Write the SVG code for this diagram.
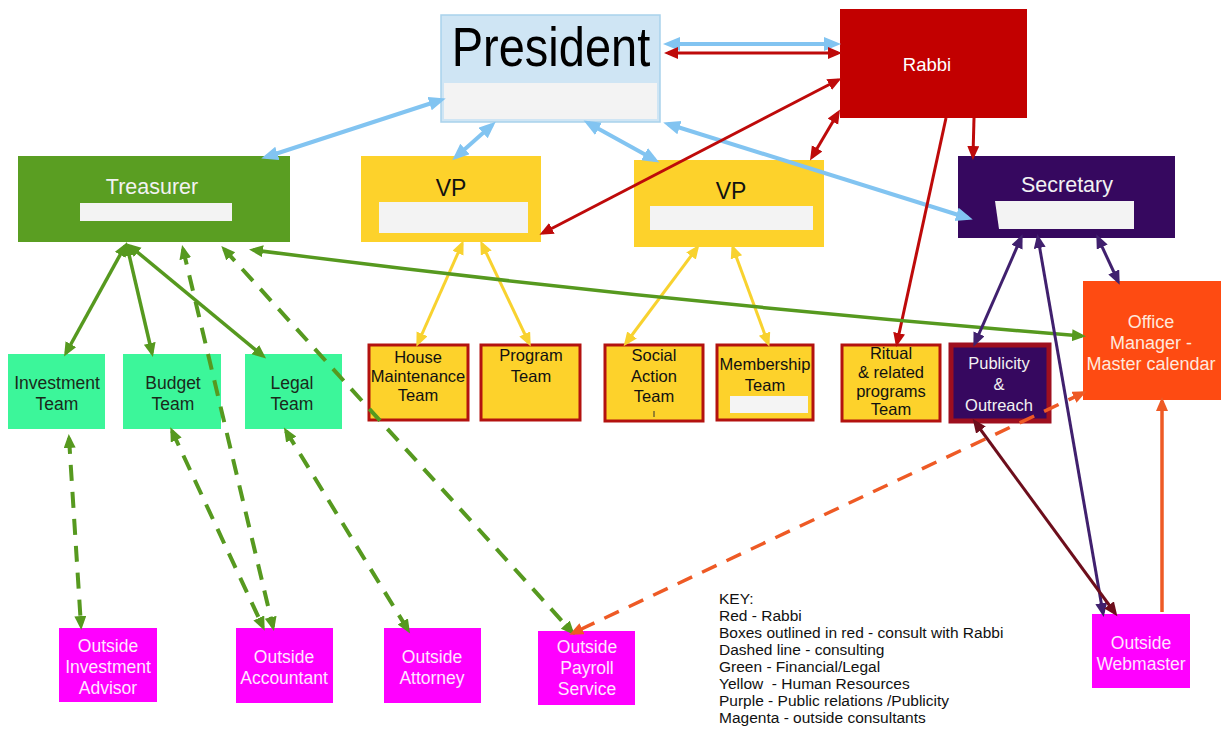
<svg xmlns="http://www.w3.org/2000/svg" width="1223" height="730" viewBox="0 0 1223 730">
<style>
  text { font-family: "Liberation Sans", Arial, sans-serif; text-anchor: middle; }
  .team { fill: #fdd22b; stroke: #b3120f; stroke-width: 3; }
  .teamtxt { font-size: 16.5px; fill: #111; }
  .mint { fill: #3cf69a; }
  .minttxt { font-size: 17.5px; fill: #1a2a1a; }
  .mag { fill: #ff00ff; }
  .magtxt { font-size: 17.5px; fill: #ffe6ff; }
  .strip { fill: #f3f3f3; }
  .key { font-size: 15.5px; fill: #111; text-anchor: start; white-space: pre; }
  .c { fill: none; }
  .blue { stroke: #82c4f1; stroke-width: 4; }
  .red { stroke: #be0a0a; stroke-width: 3; }
  .yel { stroke: #f8d22f; stroke-width: 3; }
  .grn { stroke: #56991f; stroke-width: 3.5; }
  .dash { stroke-dasharray: 16 11; stroke-width: 4; }
  .org { stroke: #ee5a25; stroke-width: 3.5; }
  .pur { stroke: #40206e; stroke-width: 3; }
  .mar { stroke: #6d0e1c; stroke-width: 3; }
</style>
<defs>
  <marker id="mb" markerUnits="userSpaceOnUse" markerWidth="18" markerHeight="16" refX="12" refY="7" orient="auto-start-reverse"><path d="M0,0 L17,7 L0,14 z" fill="#82c4f1"/></marker>
  <marker id="mr" markerUnits="userSpaceOnUse" markerWidth="16" markerHeight="14" refX="10" refY="6" orient="auto-start-reverse"><path d="M0,0 L14,6 L0,12 z" fill="#be0a0a"/></marker>
  <marker id="my" markerUnits="userSpaceOnUse" markerWidth="16" markerHeight="14" refX="10" refY="6" orient="auto-start-reverse"><path d="M0,0 L14,6 L0,12 z" fill="#f8d22f"/></marker>
  <marker id="mg" markerUnits="userSpaceOnUse" markerWidth="16" markerHeight="14" refX="10" refY="6" orient="auto-start-reverse"><path d="M0,0 L14,6 L0,12 z" fill="#56991f"/></marker>
  <marker id="mo" markerUnits="userSpaceOnUse" markerWidth="16" markerHeight="14" refX="10" refY="6" orient="auto-start-reverse"><path d="M0,0 L14,6 L0,12 z" fill="#ee5a25"/></marker>
  <marker id="mp" markerUnits="userSpaceOnUse" markerWidth="16" markerHeight="14" refX="10" refY="6" orient="auto-start-reverse"><path d="M0,0 L14,6 L0,12 z" fill="#40206e"/></marker>
  <marker id="mm" markerUnits="userSpaceOnUse" markerWidth="16" markerHeight="14" refX="10" refY="6" orient="auto-start-reverse"><path d="M0,0 L14,6 L0,12 z" fill="#6d0e1c"/></marker>
</defs>
<rect width="1223" height="730" fill="#ffffff"/>

<g id="president">
  <rect x="441" y="15" width="219" height="107" fill="#cfe5f4" stroke="#a9d2ec" stroke-width="1.5"/>
  <rect x="444" y="83" width="213" height="36" fill="#f3f3f3"/>
  <text x="551" y="58" font-size="47" fill="#000" transform="translate(0,-4) scale(1,1.2)">President</text>
</g>
<g id="rabbi">
  <rect x="840" y="9" width="187" height="109" fill="#c20000"/>
  <text x="927" y="71" font-size="18.5" fill="#fff">Rabbi</text>
</g>
<g id="treasurer">
  <rect x="18" y="156" width="272" height="86" fill="#5a9e22"/>
  <rect x="80" y="203" width="152" height="18" class="strip"/>
  <text x="152" y="194" font-size="21.5" fill="#f2f2f2">Treasurer</text>
</g>
<g id="vp1">
  <rect x="361" y="156" width="180" height="86" fill="#fdd22b"/>
  <rect x="379" y="202" width="149" height="31" class="strip"/>
  <text x="451" y="196" font-size="23" fill="#111">VP</text>
</g>
<g id="vp2">
  <rect x="634" y="160" width="190" height="87" fill="#fdd22b"/>
  <rect x="650" y="206" width="163" height="24" class="strip"/>
  <text x="731" y="199" font-size="23" fill="#111">VP</text>
</g>
<g id="secretary">
  <rect x="958" y="156" width="217" height="82" fill="#36085f"/>
  <polygon points="995,201 1134,201 1134,229 999,229" class="strip"/>
  <text x="1067" y="192" font-size="21.5" fill="#f2f2f2">Secretary</text>
</g>
<g id="office-manager">
  <rect x="1083" y="281" width="138" height="119" fill="#fe4b12"/>
  <text x="1151" y="328" font-size="18" fill="#ffe8dd">Office</text>
  <text x="1151" y="349" font-size="18" fill="#ffe8dd">Manager -</text>
  <text x="1151" y="370" font-size="18" fill="#ffe8dd">Master calendar</text>
</g>

<g id="investment-team">
  <rect x="8" y="354" width="97" height="75" class="mint"/>
  <text x="57" y="389" class="minttxt">Investment</text>
  <text x="57" y="410" class="minttxt">Team</text>
</g>
<g id="budget-team">
  <rect x="123" y="354" width="98" height="75" class="mint"/>
  <text x="173" y="389" class="minttxt">Budget</text>
  <text x="173" y="410" class="minttxt">Team</text>
</g>
<g id="legal-team">
  <rect x="245" y="354" width="97" height="75" class="mint"/>
  <text x="292" y="389" class="minttxt">Legal</text>
  <text x="292" y="410" class="minttxt">Team</text>
</g>

<g id="house-maintenance-team">
  <rect x="369" y="345" width="99" height="75" class="team"/>
  <text x="418" y="363" class="teamtxt">House</text>
  <text x="418" y="382" class="teamtxt">Maintenance</text>
  <text x="418" y="401" class="teamtxt">Team</text>
</g>
<g id="program-team">
  <rect x="481" y="345" width="99" height="75" class="team"/>
  <text x="531" y="361" class="teamtxt">Program</text>
  <text x="531" y="382" class="teamtxt">Team</text>
</g>
<g id="social-action-team">
  <rect x="605" y="345" width="98" height="76" class="team"/>
  <text x="654" y="361" class="teamtxt">Social</text>
  <text x="654" y="382" class="teamtxt">Action</text>
  <text x="654" y="402" class="teamtxt">Team</text>
  <line x1="654" y1="411" x2="654" y2="417" stroke="#333" stroke-width="1"/>
</g>
<g id="membership-team">
  <rect x="717" y="345" width="96" height="75" class="team"/>
  <rect x="730" y="396" width="78" height="17" fill="#f4f4f4"/>
  <text x="765" y="370" class="teamtxt" font-size="17">Membership</text>
  <text x="765" y="391" class="teamtxt">Team</text>
</g>
<g id="ritual-team">
  <rect x="842" y="345" width="98" height="76" class="team"/>
  <text x="891" y="359" class="teamtxt">Ritual</text>
  <text x="891" y="378" class="teamtxt">&amp; related</text>
  <text x="891" y="397" class="teamtxt">programs</text>
  <text x="891" y="415" class="teamtxt">Team</text>
</g>
<g id="publicity-outreach">
  <rect x="951" y="345" width="98" height="76" fill="#36085f" stroke="#9e0f1f" stroke-width="5"/>
  <text x="999" y="369" font-size="16.5" fill="#f2f2f2">Publicity</text>
  <text x="999" y="390" font-size="16.5" fill="#f2f2f2">&amp;</text>
  <text x="999" y="411" font-size="16.5" fill="#f2f2f2">Outreach</text>
</g>

<g id="outside-investment-advisor">
  <rect x="59" y="628" width="98" height="74" class="mag"/>
  <text x="108" y="652" class="magtxt">Outside</text>
  <text x="108" y="673" class="magtxt">Investment</text>
  <text x="108" y="694" class="magtxt">Advisor</text>
</g>
<g id="outside-accountant">
  <rect x="236" y="628" width="97" height="75" class="mag"/>
  <text x="284" y="663" class="magtxt">Outside</text>
  <text x="284" y="684" class="magtxt">Accountant</text>
</g>
<g id="outside-attorney">
  <rect x="384" y="628" width="97" height="75" class="mag"/>
  <text x="432" y="663" class="magtxt">Outside</text>
  <text x="432" y="684" class="magtxt">Attorney</text>
</g>
<g id="outside-payroll-service">
  <rect x="538" y="631" width="97" height="74" class="mag"/>
  <text x="587" y="653" class="magtxt">Outside</text>
  <text x="587" y="674" class="magtxt">Payroll</text>
  <text x="587" y="695" class="magtxt">Service</text>
</g>
<g id="outside-webmaster">
  <rect x="1092" y="614" width="98" height="74" class="mag"/>
  <text x="1141" y="649" class="magtxt">Outside</text>
  <text x="1141" y="670" class="magtxt">Webmaster</text>
</g>

<g id="key">
  <text x="719" y="604" class="key">KEY:</text>
  <text x="719" y="621" class="key">Red - Rabbi</text>
  <text x="719" y="638" class="key">Boxes outlined in red - consult with Rabbi</text>
  <text x="719" y="655" class="key">Dashed line - consulting</text>
  <text x="719" y="672" class="key">Green - Financial/Legal</text>
  <text x="719" y="689" class="key" xml:space="preserve">Yellow  - Human Resources</text>
  <text x="719" y="706" class="key">Purple - Public relations /Publicity</text>
  <text x="719" y="723" class="key">Magenta - outside consultants</text>
</g>

<g id="connectors" class="c">
  <!-- light blue -->
  <line x1="668" y1="44" x2="836" y2="44" class="blue" marker-start="url(#mb)" marker-end="url(#mb)"/>
  <line x1="441" y1="100" x2="266" y2="157" class="blue" marker-start="url(#mb)" marker-end="url(#mb)"/>
  <line x1="492" y1="125" x2="456" y2="157" class="blue" marker-start="url(#mb)" marker-end="url(#mb)"/>
  <line x1="588" y1="123" x2="655" y2="160" class="blue" stroke-width="5" marker-start="url(#mb)" marker-end="url(#mb)"/>
  <line x1="668" y1="124" x2="968" y2="218" class="blue" marker-start="url(#mb)" marker-end="url(#mb)"/>
  <!-- red -->
  <line x1="668" y1="53" x2="838" y2="53" class="red" marker-start="url(#mr)" marker-end="url(#mr)"/>
  <line x1="838" y1="80" x2="543" y2="233" class="red" marker-start="url(#mr)" marker-end="url(#mr)"/>
  <line x1="838" y1="113" x2="812" y2="157" class="red" marker-start="url(#mr)" marker-end="url(#mr)"/>
  <line x1="946" y1="118" x2="897" y2="343" class="red" marker-end="url(#mr)"/>
  <line x1="974" y1="118" x2="973" y2="156" class="red" marker-end="url(#mr)"/>
  <!-- yellow -->
  <line x1="462" y1="244" x2="418" y2="343" class="yel" marker-start="url(#my)" marker-end="url(#my)"/>
  <line x1="482" y1="244" x2="529" y2="343" class="yel" marker-start="url(#my)" marker-end="url(#my)"/>
  <line x1="697" y1="248" x2="626" y2="343" class="yel" marker-start="url(#my)" marker-end="url(#my)"/>
  <line x1="733" y1="248" x2="768" y2="343" class="yel" marker-start="url(#my)" marker-end="url(#my)"/>
  <!-- green solid -->
  <line x1="125" y1="246" x2="66" y2="353" class="grn" marker-start="url(#mg)" marker-end="url(#mg)"/>
  <line x1="127" y1="246" x2="152" y2="353" class="grn" marker-start="url(#mg)" marker-end="url(#mg)"/>
  <line x1="130" y1="246" x2="263" y2="356" class="grn" marker-start="url(#mg)" marker-end="url(#mg)"/>
  <path d="M253,250 Q660,302 1082,336" class="grn" marker-start="url(#mg)" marker-end="url(#mg)"/>
  <!-- green dashed -->
  <line x1="69" y1="438" x2="81" y2="626" class="grn dash" marker-start="url(#mg)" marker-end="url(#mg)"/>
  <line x1="172" y1="431" x2="263" y2="627" class="grn dash" marker-start="url(#mg)" marker-end="url(#mg)"/>
  <line x1="183" y1="249" x2="273" y2="627" class="grn dash" marker-start="url(#mg)" marker-end="url(#mg)"/>
  <line x1="286" y1="431" x2="408" y2="630" class="grn dash" marker-start="url(#mg)" marker-end="url(#mg)"/>
  <line x1="224" y1="249" x2="572" y2="632" class="grn dash" marker-start="url(#mg)" marker-end="url(#mg)"/>
  <!-- orange -->
  <line x1="1083" y1="393" x2="573" y2="633" class="org dash" marker-start="url(#mo)" marker-end="url(#mo)"/>
  <line x1="1162" y1="612" x2="1162" y2="401" class="org" marker-end="url(#mo)"/>
  <!-- purple -->
  <line x1="1021" y1="238" x2="975" y2="343" class="pur" marker-start="url(#mp)" marker-end="url(#mp)"/>
  <line x1="1038" y1="238" x2="1103" y2="613" class="pur" marker-start="url(#mp)" marker-end="url(#mp)"/>
  <line x1="1098" y1="238" x2="1118" y2="281" class="pur" marker-start="url(#mp)" marker-end="url(#mp)"/>
  <!-- maroon -->
  <line x1="975" y1="422" x2="1115" y2="613" class="mar" marker-start="url(#mm)" marker-end="url(#mm)"/>
</g>
</svg>
